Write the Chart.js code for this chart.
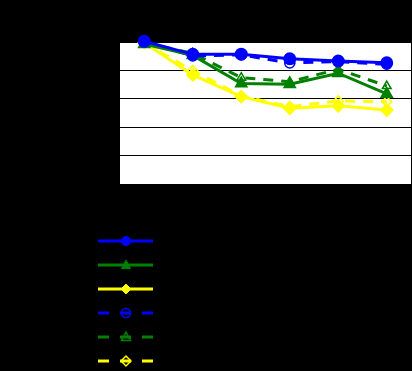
<!DOCTYPE html>
<html>
<head>
<meta charset="utf-8">
<script src="https://cdn.jsdelivr.net/npm/chart.js@4/dist/chart.umd.min.js"></script>
<style>
  html, body { margin: 0; padding: 0; background: #000; }
  #wrap { width: 412px; height: 371px; }
</style>
</head>
<body>
<div id="wrap"><canvas id="chart" width="412" height="371"></canvas></div>
<script>
// data
const categories = ['1', '2', '3', '4', '5', '6'];
const blueSolid   = [100.5, 91.3, 91.4, 88.2, 86.6, 85.4];
const greenSolid  = [98.5, 90.6, 70.8, 70.3, 78.0, 63.4];
const yellowSolid = [99.5, 76.8, 61.5, 53.3, 55.1, 52.1];
const blueDashed  = [100.5, 90.1, 91.0, 85.2, 86.2, 84.3];
const greenDashed = [99.5, 92.0, 74.9, 72.0, 80.8, 69.0];
const yellowDashed= [99.5, 79.8, 62.0, 54.5, 58.5, 58.0];
const seriesNames = ['Series 1', 'Series 2', 'Series 3', 'Series 4', 'Series 5', 'Series 6'];

const BLUE = '#0000ff', GREEN = '#008000', YELLOW = '#ffff00';

function solid(label, data, color, style) {
  return {
    label, data,
    borderColor: color, backgroundColor: color,
    borderWidth: 3,
    pointStyle: style, pointRadius: 5,
    pointBackgroundColor: color, pointBorderColor: color,
    tension: 0, clip: false
  };
}
function dashed(label, data, color, style) {
  return {
    label, data,
    borderColor: color, backgroundColor: color,
    borderWidth: 3, borderDash: [10, 8],
    pointStyle: style, pointRadius: 5, pointBorderWidth: 1.5,
    pointBackgroundColor: 'rgba(0,0,0,0)', pointBorderColor: color,
    tension: 0, clip: false
  };
}

// white plot area
const plotBg = {
  id: 'plotBg',
  beforeDraw(chart) {
    const { ctx, chartArea: a } = chart;
    ctx.save();
    ctx.fillStyle = '#ffffff';
    ctx.fillRect(a.left, a.top, a.right - a.left, a.bottom - a.top);
    ctx.restore();
  }
};

function drawMarker(ctx, style, x, y, r) {
  if (style === 'circle') {
    ctx.arc(x, y, r, 0, Math.PI * 2);
  } else if (style === 'triangle') {
    ctx.moveTo(x, y - r * 1.1);
    ctx.lineTo(x + r, y + r * 0.8);
    ctx.lineTo(x - r, y + r * 0.8);
    ctx.closePath();
  } else {
    ctx.moveTo(x, y - r * 1.1);
    ctx.lineTo(x + r * 1.1, y);
    ctx.lineTo(x, y + r * 1.1);
    ctx.lineTo(x - r * 1.1, y);
    ctx.closePath();
  }
}

// legend with line + marker samples under the plot
const lineLegend = {
  id: 'lineLegend',
  afterDraw(chart) {
    const ctx = chart.ctx;
    chart.data.datasets.forEach((ds, i) => {
      const y = 241 + i * 24;
      ctx.save();
      ctx.strokeStyle = ds.borderColor;
      ctx.lineWidth = 3;
      ctx.setLineDash(ds.borderDash ? [11, 11] : []);
      ctx.beginPath();
      ctx.moveTo(98, y);
      ctx.lineTo(153, y);
      ctx.stroke();
      ctx.setLineDash([]);
      ctx.fillStyle = ds.pointBackgroundColor;
      ctx.strokeStyle = ds.pointBorderColor;
      ctx.lineWidth = ds.pointBorderWidth || 1;
      ctx.beginPath();
      drawMarker(ctx, ds.pointStyle, 126, y, 4.5);
      ctx.fill();
      ctx.stroke();
      ctx.fillStyle = '#000000';
      ctx.font = '12px "Liberation Sans", Arial, sans-serif';
      ctx.textBaseline = 'middle';
      ctx.fillText(ds.label, 160, y);
      ctx.restore();
    });
  }
};

const ctx = document.getElementById('chart').getContext('2d');
new Chart(ctx, {
  type: 'line',
  data: {
    labels: categories,
    datasets: [
      solid(seriesNames[0], blueSolid, BLUE, 'circle'),
      solid(seriesNames[1], greenSolid, GREEN, 'triangle'),
      solid(seriesNames[2], yellowSolid, YELLOW, 'rectRot'),
      dashed(seriesNames[3], blueDashed, BLUE, 'circle'),
      dashed(seriesNames[4], greenDashed, GREEN, 'triangle'),
      dashed(seriesNames[5], yellowDashed, YELLOW, 'rectRot')
    ]
  },
  options: {
    responsive: false,
    animation: false,
    layout: { autoPadding: false, padding: { left: 120, top: 42, right: 1, bottom: 187 } },
    plugins: { legend: { display: false }, tooltip: { enabled: false } },
    scales: {
      x: {
        display: false,
        offset: true
      },
      y: {
        min: 0, max: 100,
        afterFit(scale) { scale.width = 0; },
        ticks: { display: false, stepSize: 20 },
        border: { display: false },
        grid: { color: '#000000', lineWidth: 1, drawTicks: false }
      }
    }
  },
  plugins: [plotBg, lineLegend]
});
</script>
</body>
</html>
